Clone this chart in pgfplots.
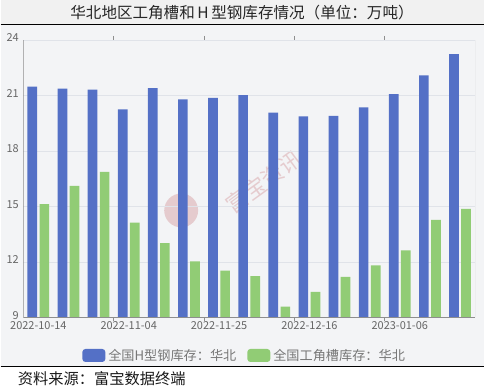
\documentclass[border=0pt]{standalone}
\usepackage{pgfplots}
\pgfplotsset{compat=1.18}
\usepackage{pgfplotstable}
\usepackage{fontspec}
\setmainfont{Noto Sans CJK SC}
\definecolor{hblue}{HTML}{5470C6}
\definecolor{hgreen}{HTML}{91CC75}
\definecolor{topbg}{HTML}{F1F1F1}
\definecolor{chartbg}{HTML}{F3F4F6}
\definecolor{labelgray}{HTML}{666666}
\definecolor{legendgray}{HTML}{777777}
\definecolor{gridgray}{HTML}{E0E3E9}
\definecolor{axisgray}{HTML}{8E8E8E}
\definecolor{wmpink}{HTML}{D8A4A8}

\pgfplotstableread{
x  hsteel angle
0  21.48 15.12
1  21.36 16.11
2  21.31 16.87
3  20.25 14.12
4  21.40 13.02
5  20.78 12.03
6  20.86 11.53
7  21.02 11.24
8  20.07 9.59
9  19.87 10.38
10 19.90 11.19
11 20.35 11.82
12 21.07 12.63
13 22.08 14.28
14 23.23 14.87
}\datatable

\begin{document}
\begin{tikzpicture}[x=1pt,y=1pt]
\fill[topbg] (0,366.7) rectangle (485,391);
\fill[chartbg] (0,23.7) rectangle (485,366.7);
\fill[white] (0,0) rectangle (485,23.7);
\draw[black, line width=1.3pt] (0,366.7) -- (485,366.7);
\draw[black, line width=1.3pt] (0,23.7) -- (485,23.7);
\node[font=\fontsize{15.6}{17}\selectfont, text=black!85] at (242,378) {华北地区工角槽和\,H\,型钢库存情况（单位：万吨）};
\node[anchor=west, font=\fontsize{15.3}{17}\selectfont, text=black!90, inner sep=0pt] at (17,11.5) {资料来源：富宝数据终端};
% watermark
\fill[wmpink, opacity=0.5] (181,180) circle (17);
\node[rotate=36, text=wmpink, opacity=0.5, font=\fontsize{22}{22}\selectfont] at (264,209) {富宝资讯};
\begin{axis}[
  at={(22.7pt,72.7pt)}, anchor=south west,
  scale only axis, width=453pt, height=278.3pt,
  xmin=-0.5, xmax=14.5, ymin=9, ymax=24,
  ytick={9,12,...,24},
  xtick={0,3,6,9,12},
  xticklabels={2022-10-14,2022-11-04,2022-11-25,2022-12-16,2023-01-06},
  extra x ticks={2.5,5.5,8.5,11.5},
  extra x tick labels={},
  extra x tick style={major tick length=4pt, tick style={draw=axisgray, line width=0.6pt}, xmajorgrids=false, tick align=outside},
  major tick length=0pt,
  ymajorgrids, grid style={gridgray, line width=0.6pt},
  axis line style={draw=none},
  ybar=2.4pt, bar width=9.7pt,
  tick label style={font=\fontsize{11}{12}\selectfont, text=labelgray},
  xticklabel style={yshift=-0.5pt},
  yticklabel style={xshift=-1pt, yshift=2pt},
  /pgf/number format/assume math mode=true,
  legend style={at={(0.49,-0.137)}, anchor=center, draw=none, fill=none,
    legend columns=2, font=\fontsize{13.2}{15}\selectfont, text=legendgray,
    /tikz/every even column/.append style={column sep=9pt},
    /tikz/every odd column/.append style={column sep=1pt}},
]
\addplot[fill=hblue, draw=none, legend image code/.code={\fill[hblue, rounded corners=3pt] (0pt,-6.5pt) rectangle (23pt,6.5pt);}] table[x=x, y=hsteel] {\datatable};
\addlegendentry{全国H型钢库存：华北}
\addplot[fill=hgreen, draw=none, legend image code/.code={\fill[hgreen, rounded corners=3pt] (0pt,-6.5pt) rectangle (23pt,6.5pt);}] table[x=x, y=angle] {\datatable};
\addlegendentry{全国工角槽库存：华北}
\draw[axisgray, line width=0.7pt] (rel axis cs:0,0) -- (rel axis cs:0,1);
\draw[axisgray, line width=0.7pt] (rel axis cs:0,0) -- (rel axis cs:1,0);
\draw[black!25, line width=1pt] (rel axis cs:1,0) -- (rel axis cs:1,1);
\end{axis}
\end{tikzpicture}
\end{document}
